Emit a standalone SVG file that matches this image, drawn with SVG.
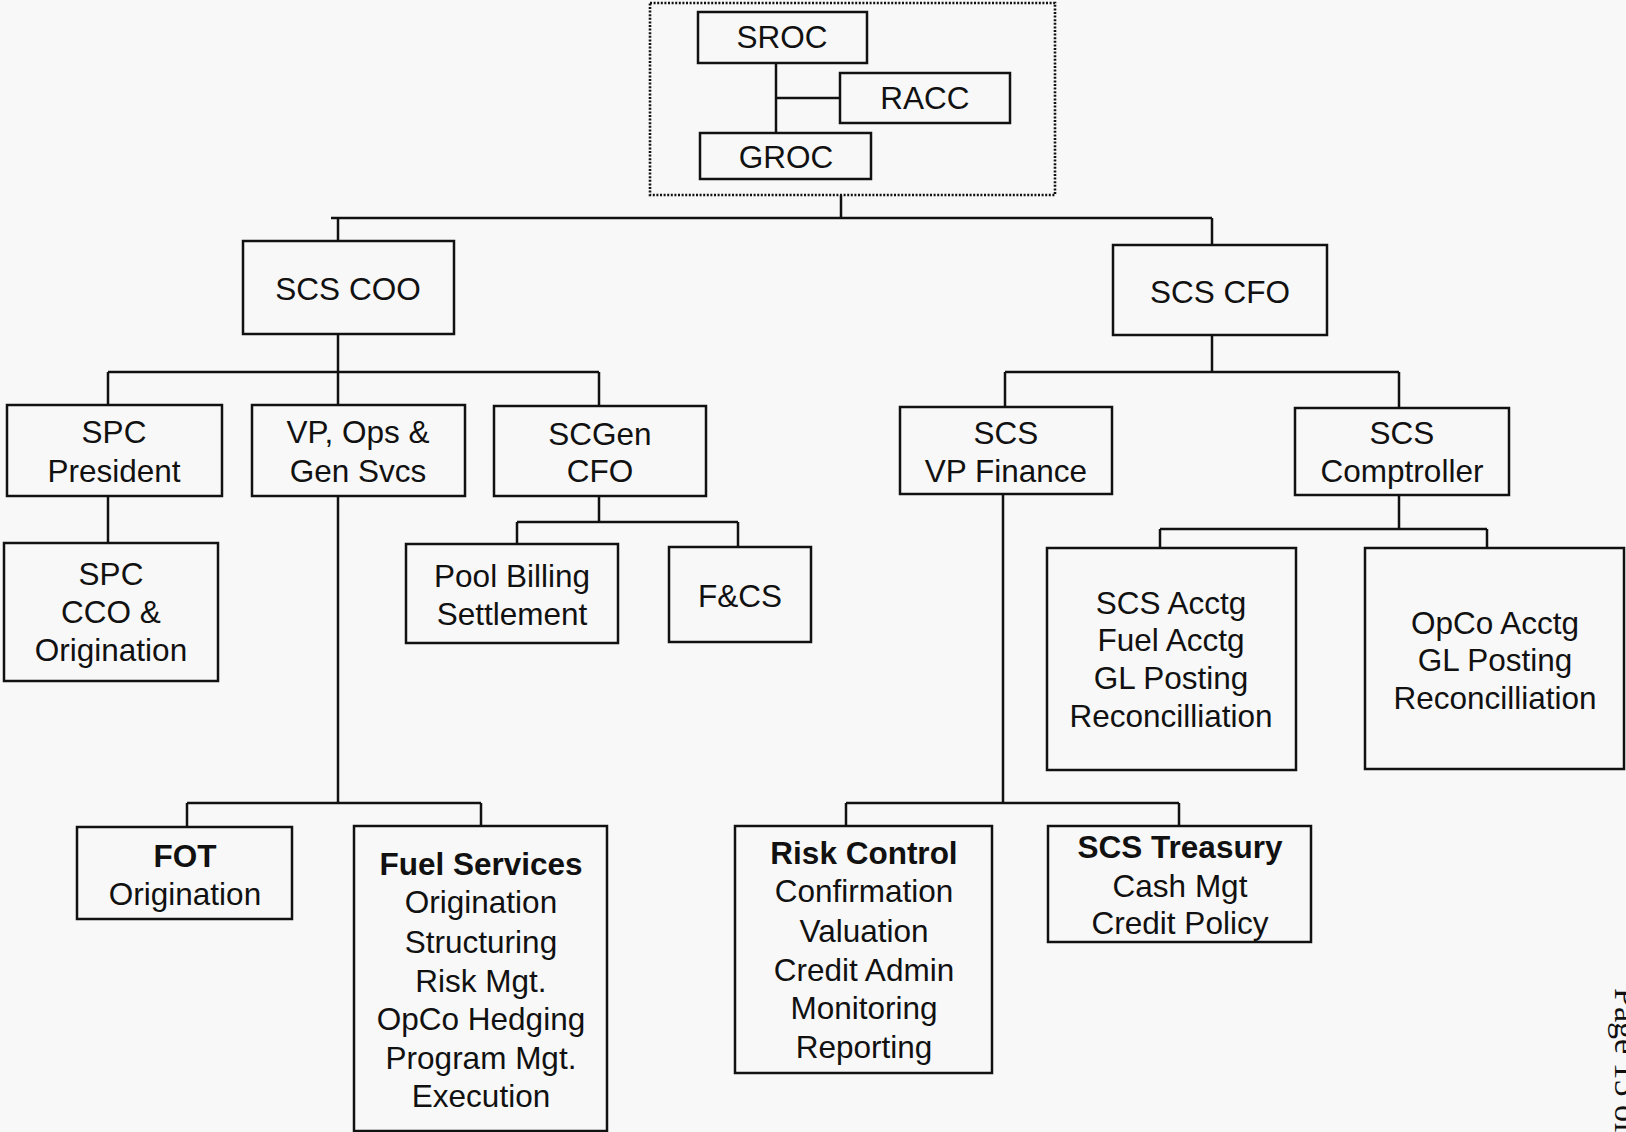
<svg xmlns="http://www.w3.org/2000/svg" width="1626" height="1132" viewBox="0 0 1626 1132">
<style>
.box{fill:none;stroke:#111;stroke-width:2.5}
.dot{fill:none;stroke:#111;stroke-width:2.6;stroke-dasharray:2 1.6}
.ln{fill:none;stroke:#111;stroke-width:2.5}
text{font-family:"Liberation Sans",Arial,sans-serif;font-size:31.5px;fill:#111;text-anchor:middle}
.b{font-weight:bold}
.pg{font-family:"Liberation Serif","Times New Roman",serif;font-size:34px;text-anchor:start}
</style>
<rect width="1626" height="1132" fill="#f8f8f8"/>
<g id="connectors">
<rect class="dot" x="650" y="3" width="405" height="192"/>
<path class="ln" d="M776 63V133M776 98H840"/>
<path class="ln" d="M841 195V218M331 218H1212M338 218V241M1212 218V245"/>
<path class="ln" d="M338 334V405M108 372H599M108 372V405M599 372V406"/>
<path class="ln" d="M108 496V543"/>
<path class="ln" d="M599 496V522M517 522H738M517 522V544M738 522V547"/>
<path class="ln" d="M338 496V803M187 803H481M187 803V827M481 803V826"/>
<path class="ln" d="M1212 335V372M1005 372H1399M1005 372V407M1399 372V408"/>
<path class="ln" d="M1399 495V529M1160 529H1487M1160 529V548M1487 529V548"/>
<path class="ln" d="M1003 494V803M846 803H1179M846 803V826M1179 803V826"/>
</g>
<g id="sroc"><rect class="box" x="698" y="12" width="169" height="51"/><text x="782" y="48">SROC</text></g>
<g id="racc"><rect class="box" x="840" y="73" width="170" height="50"/><text x="925" y="109">RACC</text></g>
<g id="groc"><rect class="box" x="700" y="133" width="171" height="46"/><text x="786" y="168">GROC</text></g>
<g id="scs-coo"><rect class="box" x="243" y="241" width="211" height="93"/><text x="348" y="300">SCS COO</text></g>
<g id="scs-cfo"><rect class="box" x="1113" y="245" width="214" height="90"/><text x="1220" y="303">SCS CFO</text></g>
<g id="spc-president"><rect class="box" x="7" y="405" width="215" height="91"/><text x="114" y="443">SPC</text><text x="114" y="482">President</text></g>
<g id="vp-ops"><rect class="box" x="252" y="405" width="213" height="91"/><text x="358" y="443">VP, Ops &amp;</text><text x="358" y="482">Gen Svcs</text></g>
<g id="scgen-cfo"><rect class="box" x="494" y="406" width="212" height="90"/><text x="600" y="445">SCGen</text><text x="600" y="482">CFO</text></g>
<g id="spc-cco"><rect class="box" x="4" y="543" width="214" height="138"/><text x="111" y="585">SPC</text><text x="111" y="623">CCO &amp;</text><text x="111" y="661">Origination</text></g>
<g id="pool-billing"><rect class="box" x="406" y="544" width="212" height="99"/><text x="512" y="587">Pool Billing</text><text x="512" y="625">Settlement</text></g>
<g id="fcs"><rect class="box" x="669" y="547" width="142" height="95"/><text x="740" y="607">F&amp;CS</text></g>
<g id="vp-finance"><rect class="box" x="900" y="407" width="212" height="87"/><text x="1006" y="444">SCS</text><text x="1006" y="482">VP Finance</text></g>
<g id="comptroller"><rect class="box" x="1295" y="408" width="214" height="87"/><text x="1402" y="444">SCS</text><text x="1402" y="482">Comptroller</text></g>
<g id="scs-acctg"><rect class="box" x="1047" y="548" width="249" height="222"/><text x="1171" y="614">SCS Acctg</text><text x="1171" y="651">Fuel Acctg</text><text x="1171" y="689">GL Posting</text><text x="1171" y="727">Reconcilliation</text></g>
<g id="opco-acctg"><rect class="box" x="1365" y="548" width="259" height="221"/><text x="1495" y="634">OpCo Acctg</text><text x="1495" y="671">GL Posting</text><text x="1495" y="709">Reconcilliation</text></g>
<g id="fot"><rect class="box" x="77" y="827" width="215" height="92"/><text class="b" x="185" y="867">FOT</text><text x="185" y="905">Origination</text></g>
<g id="fuel-services"><rect class="box" x="354" y="826" width="253" height="305"/><text class="b" x="481" y="875">Fuel Services</text><text x="481" y="913">Origination</text><text x="481" y="953">Structuring</text><text x="481" y="992">Risk Mgt.</text><text x="481" y="1030">OpCo Hedging</text><text x="481" y="1069">Program Mgt.</text><text x="481" y="1107">Execution</text></g>
<g id="risk-control"><rect class="box" x="735" y="826" width="257" height="247"/><text class="b" x="864" y="864">Risk Control</text><text x="864" y="902">Confirmation</text><text x="864" y="942">Valuation</text><text x="864" y="981">Credit Admin</text><text x="864" y="1019">Monitoring</text><text x="864" y="1058">Reporting</text></g>
<g id="scs-treasury"><rect class="box" x="1048" y="826" width="263" height="116"/><text class="b" x="1180" y="858">SCS Treasury</text><text x="1180" y="897">Cash Mgt</text><text x="1180" y="934">Credit Policy</text></g>
<text class="pg" transform="translate(1615 988) rotate(90)">Page 15 of</text>
</svg>
